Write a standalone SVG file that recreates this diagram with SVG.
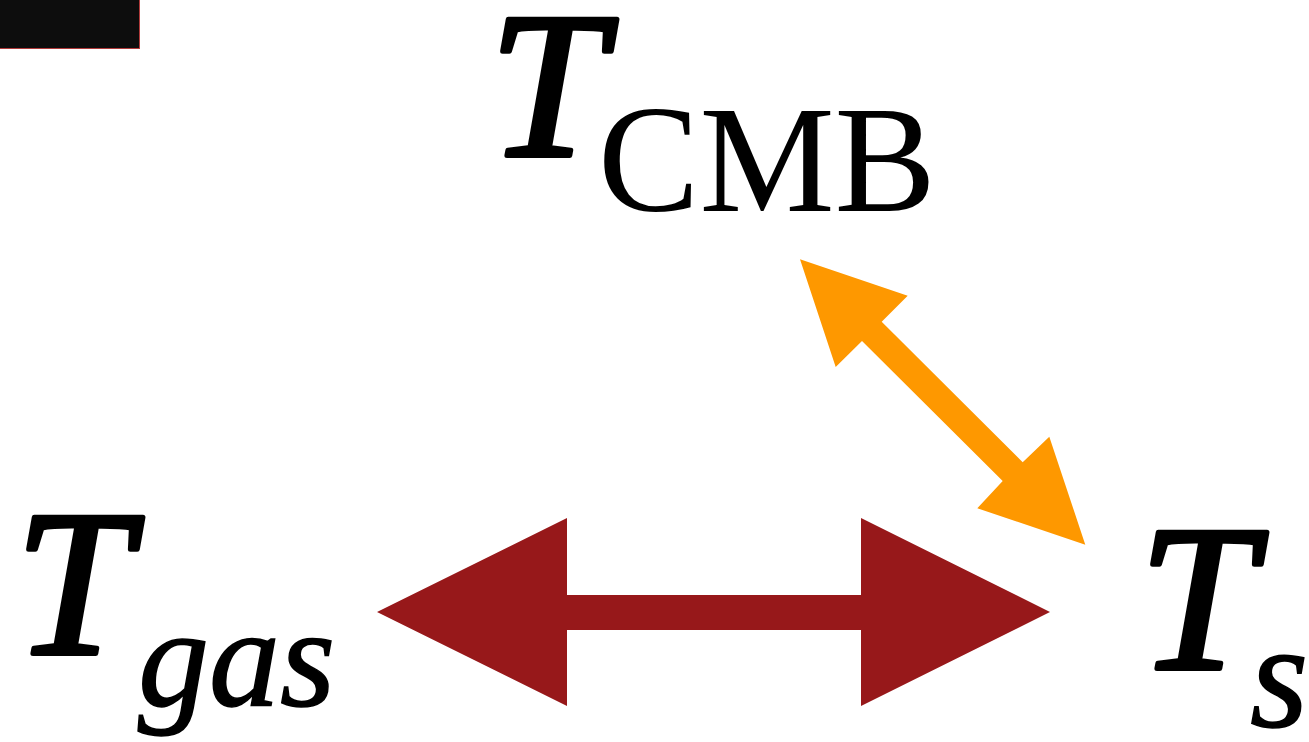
<svg xmlns="http://www.w3.org/2000/svg" width="1309" height="742" viewBox="0 0 1309 742">
<style>
.it{font-family:"Liberation Serif","Times New Roman",serif;font-style:italic;fill:#000}
.big{stroke:#000;stroke-width:5;stroke-linejoin:round}
.sub{stroke:#000;stroke-width:1.5}
.up{font-family:"Liberation Serif","Times New Roman",serif;fill:#000}
</style>
<rect width="1309" height="742" fill="#fff"/>
<rect x="-1" y="-1" width="140.5" height="49.5" fill="#0d0d0d" stroke="#b03a3a" stroke-width="1"/>
<g id="connectors">
<polygon points="377,612 567,518 567,595 861,595 861,518 1050,612 861,706 861,630 567,630 567,706" fill="#97181a"/>
<polygon points="800,259.3 907.7,295.7 881.7,321.7 1022.7,462.3 1049.3,436.7 1085.3,544.7 977.3,508.3 1002.7,481 862,341 835.7,367" fill="#fe9800"/>
</g>
<g id="node-cmb">
<text class="it big" x="489" y="155" font-size="208">T</text>
<text class="up" x="598" y="211" font-size="152">CMB</text>
</g>
<g id="node-gas">
<text class="it big" x="15" y="653" font-size="208">T</text>
<text class="it sub" x="138" y="706" font-size="142">gas</text>
</g>
<g id="node-s">
<text class="it big" x="1139" y="668" font-size="208">T</text>
<text class="it sub" x="1250" y="727" font-size="150">s</text>
</g>
</svg>
